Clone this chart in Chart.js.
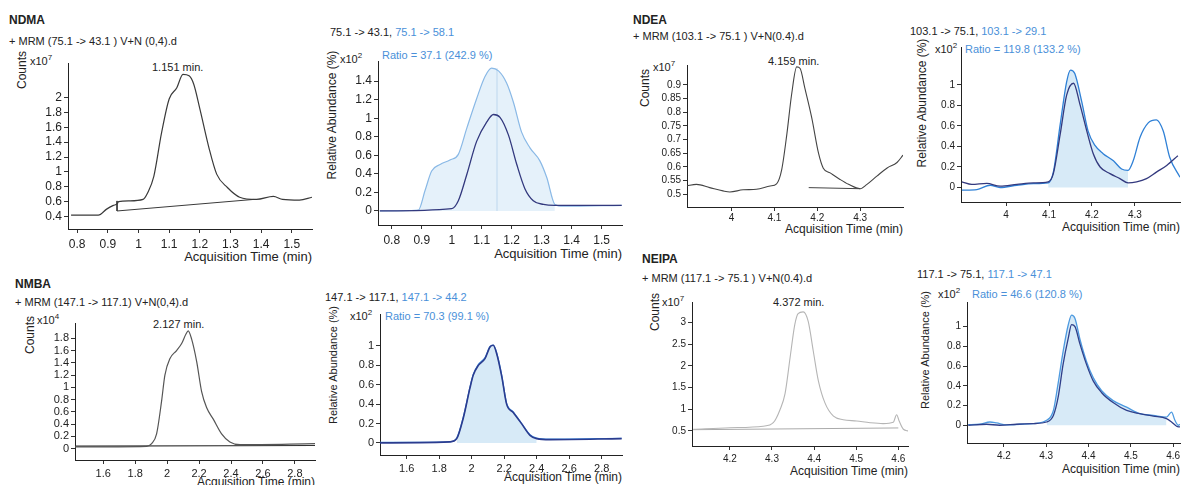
<!DOCTYPE html>
<html><head><meta charset="utf-8">
<script src="https://cdn.jsdelivr.net/npm/chart.js@4.4.1/dist/chart.umd.min.js"></script>
<style>
html,body{margin:0;padding:0;background:#fff;}
body{width:1181px;height:485px;overflow:hidden;position:relative;font-family:"Liberation Sans",Arial,sans-serif;}
.t{position:absolute;white-space:nowrap;font-size:11px;color:#222;line-height:13px;}
.b{font-weight:bold;font-size:12px;}
.bl{color:#4a90d9;}
.xt{font-size:12px;}
.xt13{font-size:13px;}
.rot{transform:translate(-50%,-50%) rotate(-90deg);font-size:12px;}
.rot.sm{font-size:11px;}
sup{font-size:8px;vertical-align:5px;line-height:0;}
canvas{position:absolute;}
</style></head><body>

<div class="t b" style="left:9px;top:14px">NDMA</div>
<div class="t" style="left:9px;top:35px">+ MRM (75.1 -&gt; 43.1 ) V+N (0,4).d</div>
<div class="t rot" style="left:22px;top:70px">Counts</div>
<div class="t" style="left:30px;top:55px">x10<sup>7</sup></div>
<div class="t" style="left:152px;top:61px">1.151 min.</div>
<div class="t xt13" style="right:869px;top:250px">Acquisition Time (min)</div>

<div class="t" style="left:330px;top:26px">75.1 -&gt; 43.1, <span class="bl">75.1 -&gt; 58.1</span></div>
<div class="t bl" style="left:382px;top:49px">Ratio = 37.1 (242.9 %)</div>
<div class="t rot" style="left:332px;top:115px">Relative Abundance (%)</div>
<div class="t" style="left:340px;top:53px">x10<sup>2</sup></div>
<div class="t xt13" style="right:559px;top:247px">Acquisition Time (min)</div>

<div class="t b" style="left:633px;top:14px">NDEA</div>
<div class="t" style="left:633px;top:30px">+ MRM (103.1 -&gt; 75.1 ) V+N(0.4).d</div>
<div class="t rot" style="left:645px;top:88px">Counts</div>
<div class="t" style="left:653px;top:61px">x10<sup>7</sup></div>
<div class="t" style="left:768px;top:55px">4.159 min.</div>
<div class="t xt" style="right:278px;top:223px">Acquisition Time (min)</div>

<div class="t" style="left:910px;top:25px">103.1 -&gt; 75.1, <span class="bl">103.1 -&gt; 29.1</span></div>
<div class="t bl" style="left:965px;top:43px">Ratio = 119.8 (133.2 %)</div>
<div class="t rot" style="left:922px;top:103px">Relative Abundance (%)</div>
<div class="t" style="left:935px;top:43px">x10<sup>2</sup></div>
<div class="t xt" style="right:1px;top:221px">Acquisition Time (min)</div>

<div class="t b" style="left:15px;top:278px">NMBA</div>
<div class="t" style="left:15px;top:296px">+ MRM (147.1 -&gt; 117.1) V+N(0,4).d</div>
<div class="t rot" style="left:30px;top:335px">Counts</div>
<div class="t" style="left:37px;top:314px">x10<sup>4</sup></div>
<div class="t" style="left:153px;top:318px">2.127 min.</div>
<div class="t xt" style="right:866px;top:476px">Acquisition Time (min)</div>

<div class="t" style="left:325px;top:291px">147.1 -&gt; 117.1, <span class="bl">147.1 -&gt; 44.2</span></div>
<div class="t bl" style="left:385px;top:310px">Ratio = 70.3 (99.1 %)</div>
<div class="t rot sm" style="left:333px;top:365px">Relative Abundance (%)</div>
<div class="t" style="left:350px;top:310px">x10<sup>2</sup></div>
<div class="t xt" style="right:559px;top:471px">Acquisition Time (min)</div>

<div class="t b" style="left:642px;top:253px">NEIPA</div>
<div class="t" style="left:642px;top:272px">+ MRM (117.1 -&gt; 75.1 ) V+N(0.4).d</div>
<div class="t rot" style="left:655px;top:312px">Counts</div>
<div class="t" style="left:662px;top:296px">x10<sup>7</sup></div>
<div class="t" style="left:773px;top:296px">4.372 min.</div>
<div class="t xt" style="right:273px;top:465px">Acquisition Time (min)</div>

<div class="t" style="left:917px;top:268px">117.1 -&gt; 75.1, <span class="bl">117.1 -&gt; 47.1</span></div>
<div class="t bl" style="left:972px;top:288px">Ratio = 46.6 (120.8 %)</div>
<div class="t rot sm" style="left:925px;top:350px">Relative Abundance (%)</div>
<div class="t" style="left:938px;top:288px">x10<sup>2</sup></div>
<div class="t xt" style="right:1px;top:463px">Acquisition Time (min)</div>

<script>
// ---------- NDMA ----------
const ndmaT = [0.78,0.869,0.896,0.918,0.93,0.935,0.97,1.015,1.03,1.05,1.075,1.10,1.125,1.145,1.165,1.18,1.20,1.23,1.255,1.29,1.33,1.385,1.44,1.47,1.525,1.566];
const ndmaCounts = [0.42,0.42,0.5,0.55,0.57,0.6,0.61,0.63,0.72,0.94,1.52,1.98,2.13,2.31,2.29,2.18,1.85,1.32,0.97,0.79,0.66,0.63,0.67,0.63,0.62,0.66];
const ndmaBaseT = [0.93,0.93,1.375];
const ndmaBaseV = [0.61,0.475,0.63];
const ndmaQuantT = [0.76,1.0,1.022,1.05,1.083,1.117,1.139,1.161,1.189,1.217,1.244,1.272,1.306,1.344,1.567];
const ndmaQuantV = [0,0.025,0.11,0.39,0.75,0.96,1.04,1.01,0.82,0.50,0.24,0.11,0.07,0.06,0.06];
const ndmaQualT = [0.76,0.889,0.911,0.933,0.961,0.994,1.022,1.05,1.083,1.111,1.133,1.156,1.183,1.206,1.233,1.261,1.294,1.317,1.344,1.372,1.567];
const ndmaQualV = [0,0.01,0.22,0.43,0.50,0.55,0.61,0.89,1.21,1.45,1.54,1.51,1.38,1.17,0.85,0.68,0.54,0.36,0.07,0.05,0.06];
const ndmaWindow = [0.889,1.344];
const ndmaRT = 1.151;
const ndmaCountXTicks = [0.8,0.9,1,1.1,1.2,1.3,1.4,1.5];
const ndmaCountYTicks = [0.4,0.6,0.8,1,1.2,1.4,1.6,1.8,2];
const ndmaRatioYTicks = [0,0.2,0.4,0.6,0.8,1,1.2,1.4];

// ---------- NDEA ----------
const ndeaT = [3.895,3.918,3.949,3.98,3.996,4.027,4.058,4.09,4.105,4.117,4.129,4.14,4.152,4.16,4.171,4.187,4.203,4.214,4.23,4.253,4.273,4.30,4.316,4.339,4.363,4.386,4.40];
const ndeaCounts = [0.53,0.536,0.524,0.512,0.508,0.516,0.518,0.53,0.538,0.59,0.72,0.864,0.966,0.96,0.888,0.78,0.649,0.595,0.578,0.554,0.536,0.52,0.536,0.566,0.596,0.616,0.643];
const ndeaBaseT = [4.18,4.30];
const ndeaBaseV = [0.524,0.52];
const ndeaQuantT = [3.897,3.92,3.955,3.986,4.025,4.064,4.098,4.11,4.126,4.141,4.157,4.172,4.188,4.203,4.219,4.242,4.265,4.284,4.304,4.327,4.35,4.374,4.40];
const ndeaQuantV = [0.055,0.03,0.04,0.013,0.03,0.045,0.055,0.135,0.52,0.90,1.016,0.81,0.55,0.33,0.20,0.135,0.087,0.045,0.055,0.087,0.15,0.215,0.31];
const ndeaQualT = [3.897,3.932,3.963,3.986,4.025,4.064,4.098,4.11,4.126,4.141,4.15,4.16,4.176,4.191,4.207,4.226,4.25,4.269,4.284,4.296,4.312,4.331,4.35,4.366,4.381,4.405];
const ndeaQualV = [-0.026,-0.02,0.022,0.0,0.022,0.038,0.045,0.15,0.615,1.03,1.144,1.11,0.84,0.55,0.41,0.33,0.26,0.18,0.167,0.26,0.49,0.63,0.66,0.55,0.295,0.10];
const ndeaWindow = [4.098,4.284];
const ndeaXTicks = [4,4.1,4.2,4.3];
const ndeaCountYTicks = [0.5,0.55,0.6,0.65,0.7,0.75,0.8,0.85,0.9];
const ndeaRatioYTicks = [0,0.2,0.4,0.6,0.8,1];

// ---------- NMBA ----------
const nmbaT = [1.423,1.871,1.903,1.934,1.965,1.986,2.018,2.059,2.09,2.118,2.132,2.153,2.185,2.216,2.247,2.289,2.341,2.393,2.456,2.926];
const nmbaCounts = [0.027,0.037,0.08,0.24,0.77,1.20,1.47,1.60,1.71,1.87,1.92,1.79,1.42,0.93,0.67,0.48,0.24,0.107,0.064,0.08];
const nmbaBaseT = [1.423,2.926];
const nmbaBaseV = [0.04,0.05];
const nmbaQuantT = [1.436,1.867,1.908,1.949,1.99,2.01,2.041,2.082,2.113,2.133,2.154,2.185,2.215,2.256,2.308,2.359,2.40,2.482,2.923];
const nmbaQuantV = [0,0.01,0.044,0.26,0.57,0.70,0.80,0.87,0.99,1.007,0.92,0.686,0.40,0.314,0.196,0.078,0.044,0.034,0.044];
const nmbaQualT = [1.436,1.867,1.908,1.949,1.99,2.01,2.041,2.082,2.113,2.133,2.154,2.185,2.215,2.256,2.308,2.359,2.40,2.482,2.923];
const nmbaQualV = [0.005,0.012,0.05,0.27,0.58,0.71,0.81,0.88,0.995,1.01,0.93,0.70,0.41,0.32,0.20,0.085,0.05,0.04,0.048];
const nmbaWindow = [1.9,2.42];
const nmbaXTicks = [1.6,1.8,2,2.2,2.4,2.6,2.8];
const nmbaCountYTicks = [0,0.2,0.4,0.6,0.8,1,1.2,1.4,1.6,1.8];
const nmbaRatioYTicks = [0,0.2,0.4,0.6,0.8,1];

// ---------- NEIPA ----------
const neipaT = [4.113,4.2,4.279,4.303,4.319,4.331,4.343,4.354,4.362,4.374,4.386,4.398,4.41,4.426,4.446,4.469,4.501,4.533,4.564,4.588,4.596,4.602,4.612,4.624];
const neipaCounts = [0.54,0.575,0.61,0.69,0.99,1.36,2.19,2.94,3.20,3.24,3.02,2.34,1.66,1.14,0.84,0.76,0.73,0.69,0.67,0.70,0.875,0.73,0.54,0.50];
const neipaBaseT = [4.113,4.60];
const neipaBaseV = [0.53,0.57];
const neipaQuantT = [4.116,4.159,4.19,4.23,4.269,4.301,4.317,4.328,4.34,4.352,4.36,4.368,4.38,4.395,4.411,4.431,4.458,4.49,4.521,4.553,4.584,4.596,4.608,4.616];
const neipaQuantV = [0,0.01,0,0.01,0.017,0.033,0.10,0.28,0.62,0.88,1.02,1.0,0.82,0.62,0.45,0.33,0.23,0.15,0.117,0.093,0.067,0.033,-0.01,-0.017];
const neipaQualT = [4.116,4.143,4.167,4.183,4.206,4.238,4.269,4.301,4.317,4.328,4.34,4.352,4.36,4.368,4.38,4.395,4.411,4.431,4.458,4.49,4.521,4.553,4.584,4.596,4.604,4.612,4.616];
const neipaQualV = [0.007,0.01,0.033,0.023,0.003,0.01,0.017,0.05,0.15,0.42,0.75,1.017,1.117,1.083,0.867,0.65,0.483,0.35,0.25,0.183,0.117,0.10,0.083,0.133,0.05,0.0,0.01];
const neipaWindow = [4.30,4.59];
const neipaXTicks = [4.2,4.3,4.4,4.5,4.6];
const neipaCountYTicks = [0.5,1,1.5,2,2.5,3];
const neipaRatioYTicks = [0,0.2,0.4,0.6,0.8,1];

// ---------- helpers ----------
Chart.defaults.font.family = '"Liberation Sans", Arial, sans-serif';
Chart.defaults.font.size = 11;
Chart.defaults.color = '#222';

const pts = (t, v) => t.map((x, i) => ({x, y: v[i]}));
const win = (t, v, w) => pts(t, v).filter(p => p.x >= w[0] - 1e-9 && p.x <= w[1] + 1e-9);
const fmt = v => String(Math.round(v * 1000) / 1000);

function line(data, color, width) {
  return {data, borderColor: color, borderWidth: width || 1.2, pointRadius: 0,
    tension: 0, cubicInterpolationMode: 'monotone', fill: false};
}
function straight(data, color, width) {
  return {data, borderColor: color, borderWidth: width || 1, pointRadius: 0, tension: 0, fill: false};
}
function area(data, color) {
  return {data, borderWidth: 0, borderColor: 'rgba(0,0,0,0)', pointRadius: 0, tension: 0,
    cubicInterpolationMode: 'monotone', fill: 'origin', backgroundColor: color};
}

function panel(rect, xr, yr, xt, yt, datasets, fs, xpad) {
  const W = 44, H = 24, PT = 6, PR = 9;
  const c = document.createElement('canvas');
  const left = rect[0] - W, top = rect[1] - PT;
  c.width = rect[2] + PR - left;
  c.height = rect[3] + H - top;
  c.style.left = left + 'px';
  c.style.top = top + 'px';
  document.body.appendChild(c);
  const axis = (ticks, r, fit, pad) => ({
    type: 'linear', min: r[0], max: r[1], bounds: 'data',
    afterFit: fit,
    afterBuildTicks: s => { s.ticks = ticks.map(v => ({value: v})); },
    ticks: {callback: fmt, autoSkip: false, maxRotation: 0, padding: pad, color: '#222', font: {size: fs}},
    grid: {drawOnChartArea: false, tickLength: 4, color: '#333'},
    border: {color: '#222', width: 1}
  });
  new Chart(c, {
    type: 'line',
    data: {datasets},
    options: {
      responsive: false, animation: false, events: [],
      layout: {padding: {left: 0, top: PT, right: PR, bottom: 0}},
      plugins: {legend: {display: false}, tooltip: {enabled: false}},
      scales: {
        x: axis(xt, xr, s => { s.height = H; }, xpad),
        y: axis(yt, yr, s => { s.width = W; }, 2)
      }
    }
  });
}

const dark = '#33397e', fillC = 'rgba(140,195,232,0.35)';

// NDMA counts
panel([68, 60, 312, 229], [0.77, 1.566], [0.233, 2.46], ndmaCountXTicks, ndmaCountYTicks, [
  line(pts(ndmaT, ndmaCounts), '#3a3a3a', 1.2),
  straight(pts(ndmaBaseT, ndmaBaseV), '#3a3a3a', 1)
], 12, 4);
// NDMA ratio
panel([378, 58, 622, 225], [0.754, 1.568], [-0.152, 1.615], ndmaCountXTicks, ndmaRatioYTicks, [
  line(pts(ndmaQuantT, ndmaQuantV), dark, 1.3),
  line(pts(ndmaQualT, ndmaQualV), '#8ab9e6', 1.2),
  straight([{x: ndmaRT, y: 0}, {x: ndmaRT, y: Math.max(...ndmaQualV)}], 'rgba(150,190,225,0.5)', 1),
  area(win(ndmaQualT, ndmaQualV, ndmaWindow), 'rgba(170,210,238,0.3)')
], 12, 4);
// NDEA counts
panel([687, 63, 903, 207], [3.896, 4.40], [0.453, 0.973], ndeaXTicks, ndeaCountYTicks, [
  line(pts(ndeaT, ndeaCounts), '#444', 1.1),
  straight(pts(ndeaBaseT, ndeaBaseV), '#444', 1)
], 10, 1);
// NDEA ratio
panel([961, 45, 1180, 202], [3.895, 4.405], [-0.141, 1.369], ndeaXTicks, ndeaRatioYTicks, [
  line(pts(ndeaQuantT, ndeaQuantV), dark, 1.3),
  line(pts(ndeaQualT, ndeaQualV), '#2f80d6', 1.3),
  area(win(ndeaQualT, ndeaQualV, ndeaWindow), fillC)
], 10, 3);
// NMBA counts
panel([75, 321, 315, 460], [1.423, 2.926], [-0.187, 2.04], nmbaXTicks, nmbaCountYTicks, [
  line(pts(nmbaT, nmbaCounts), '#555', 1.2),
  straight(pts(nmbaBaseT, nmbaBaseV), '#333', 1.2)
], 11, 3);
// NMBA ratio
panel([380, 312, 622, 455], [1.436, 2.925], [-0.125, 1.324], nmbaXTicks, nmbaRatioYTicks, [
  line(pts(nmbaQuantT, nmbaQuantV), '#2b3c8f', 1.6),
  line(pts(nmbaQualT, nmbaQualV), '#3f8ee0', 1.2),
  area(win(nmbaQualT, nmbaQualV, nmbaWindow), fillC)
], 11, 3);
// NEIPA counts
panel([692, 300, 908, 446], [4.11, 4.623], [0.155, 3.466], neipaXTicks, neipaCountYTicks, [
  line(pts(neipaT, neipaCounts), '#b5b5b5', 1.1),
  straight(pts(neipaBaseT, neipaBaseV), '#aaa', 1)
], 10, 3);
// NEIPA ratio
panel([967, 300, 1180, 443], [4.113, 4.616], [-0.18, 1.25], neipaXTicks, neipaRatioYTicks, [
  line(pts(neipaQuantT, neipaQuantV), '#2f3f8a', 1.3),
  line(pts(neipaQualT, neipaQualV), '#4d9ae0', 1.3),
  area(win(neipaQualT, neipaQualV, neipaWindow), fillC)
], 10, 3);
</script>
</body></html>
